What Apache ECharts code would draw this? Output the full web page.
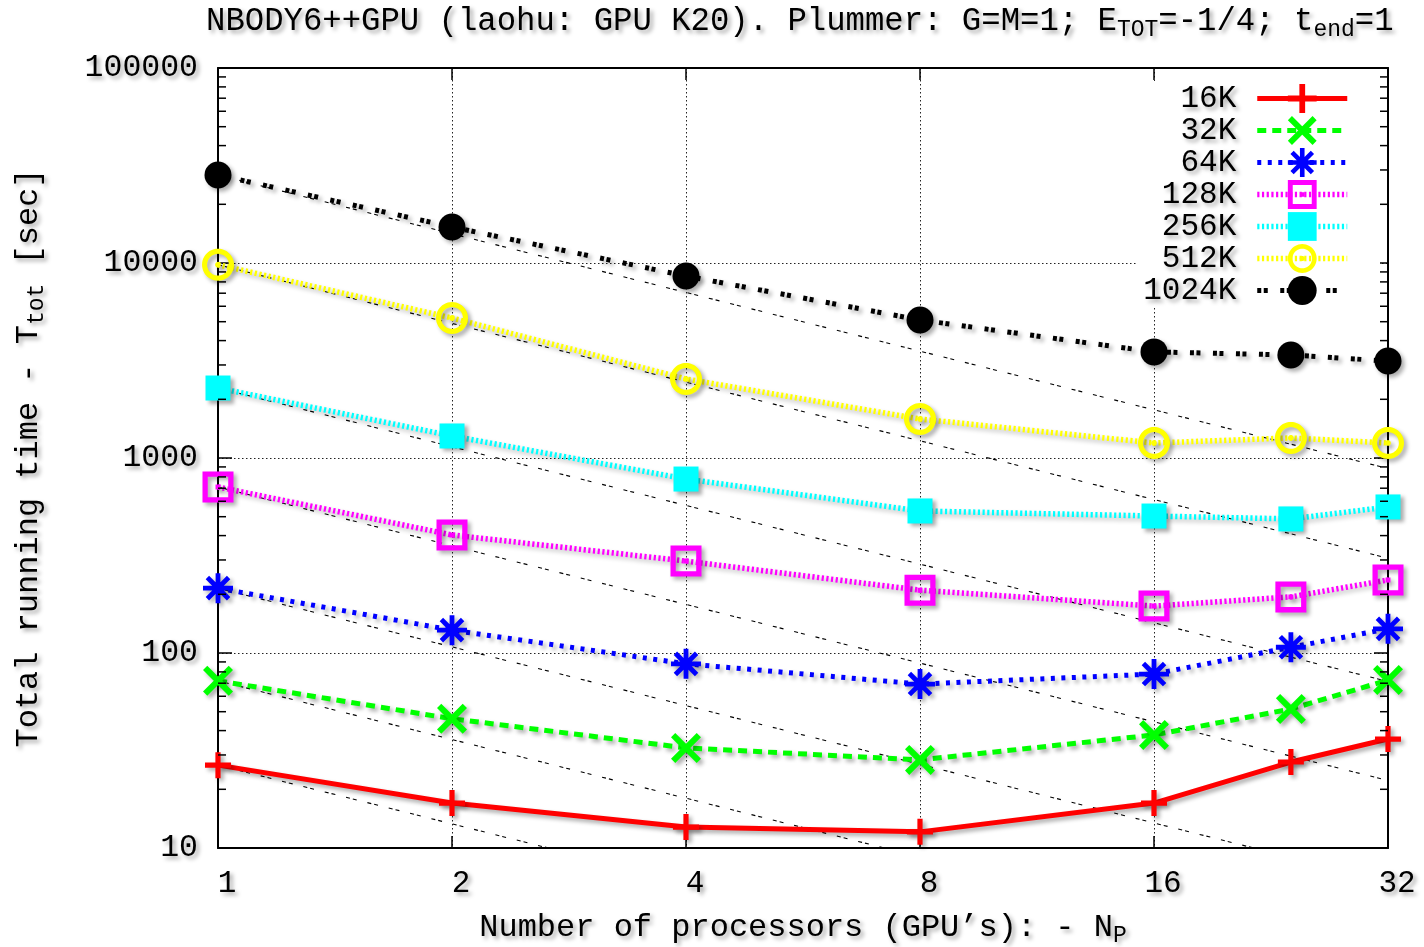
<!DOCTYPE html>
<html><head><meta charset="utf-8">
<script src="https://cdn.jsdelivr.net/npm/echarts@6/dist/echarts.min.js"></script>
<style>html,body{margin:0;padding:0;background:#fff}#c{width:1424px;height:947px}</style>
</head><body><div id="c"></div>
<script>
// ---------------- data ----------------
const processors = [1, 2, 4, 8, 16, 24, 32];
const seriesNames = ['16K', '32K', '64K', '128K', '256K', '512K', '1024K'];
const t16K   = [26.6, 17.0, 12.8, 12.1, 17.0, 27.6, 36.2];
const t32K   = [72, 46, 32.6, 28.3, 38, 51.6, 72.7];
const t64K   = [215, 131, 88, 69.3, 78, 107, 133];
const t128K  = [710, 403, 296, 210, 174, 194, 237];
const t256K  = [2285, 1297, 780, 535, 504, 487, 561];
const t512K  = [9800, 5224, 2543, 1585, 1194, 1267, 1194];
const t1024K = [28250, 15300, 8570, 5100, 3500, 3375, 3142];
const xTickLabels = ['1', '2', '4', '8', '16', '32'];
const yTickLabels = ['10', '100', '1000', '10000', '100000'];
const allTimes = [t16K, t32K, t64K, t128K, t256K, t512K, t1024K];

// ---------------- styling ----------------
const MONO = "'Liberation Mono', 'DejaVu Sans Mono', monospace";
const TSH = {textShadowColor: 'rgba(0,0,0,0.35)', textShadowBlur: 4, textShadowOffsetX: 3, textShadowOffsetY: 3};
const SH = {shadowColor: 'rgba(0,0,0,0.33)', shadowBlur: 4, shadowOffsetX: 3, shadowOffsetY: 3};

function arm(cx, cy, len, w, angDeg) {
  const a = angDeg * Math.PI / 180, c = Math.cos(a), s = Math.sin(a);
  const pts = [[-len, -w], [len, -w], [len, w], [-len, w]].map(([u, v]) => [cx + u * c - v * s, cy + u * s + v * c]);
  return 'M' + pts.map(p => p[0].toFixed(2) + ',' + p[1].toFixed(2)).join('L') + 'Z';
}
function ring(cx, cy, r, n, rev) {
  const pts = [];
  for (let i = 0; i < n; i++) {
    const a = (rev ? -1 : 1) * i * 2 * Math.PI / n;
    pts.push([cx + r * Math.cos(a), cy + r * Math.sin(a)]);
  }
  return 'M' + pts.map(p => p[0].toFixed(2) + ',' + p[1].toFixed(2)).join('L') + 'Z';
}
const SYM_PLUS = 'path://' + arm(50, 50, 50, 10, 0) + arm(50, 50, 50, 10, 90);
const SYM_CROSS = 'path://' + arm(50, 50, 60, 10, 45) + arm(50, 50, 60, 10, -45);
const SYM_STAR = 'path://' + arm(50, 50, 50, 8, 0) + arm(50, 50, 50, 8, 45) + arm(50, 50, 50, 8, 90) + arm(50, 50, 50, 8, 135);
const SYM_HSQ = 'path://M0,0H100V100H0Z M17,17V83H83V17Z M42,42H58V58H42Z';
const SYM_HCIRC = 'path://' + ring(50, 50, 50, 48, false) + ring(50, 50, 34, 48, true) + ring(50, 50, 9, 24, false);

const looks = [
  {color: '#ff0000', width: 5, type: 'solid', symbol: SYM_PLUS, size: 26},
  {color: '#00ff00', width: 5, type: [9, 6], symbol: SYM_CROSS, size: 30},
  {color: '#0000ff', width: 5, type: [4, 6.5], symbol: SYM_STAR, size: 30},
  {color: '#ff00ff', width: 5.5, type: [2.2, 2.5], symbol: SYM_HSQ, size: 31},
  {color: '#00ffff', width: 5.5, type: [2.2, 2.5], symbol: 'rect', size: 25},
  {color: '#ffff00', width: 5.5, type: [2.2, 2.5], symbol: SYM_HCIRC, size: 32},
  {color: '#000000', width: 5, type: [4, 2.5, 4, 12.5], symbol: 'circle', size: 27}
];

const series = [];
// ideal-scaling reference lines T(1)/N_P
allTimes.forEach((arr, i) => {
  series.push({
    name: 'ideal ' + seriesNames[i], type: 'line', silent: true, z: 1,
    data: [[processors[0], arr[0]], [32, arr[0] / 32]],
    symbol: 'none', lineStyle: {color: '#000', width: 1.1, type: [4, 3, 4, 11]},
    emphasis: {disabled: true}
  });
});
allTimes.forEach((arr, i) => {
  const lk = looks[i];
  series.push({
    name: seriesNames[i], type: 'line', z: 3 + i,
    data: processors.map((n, j) => [n, arr[j]]),
    symbol: lk.symbol, symbolSize: lk.size, symbolKeepAspect: true, showAllSymbol: true,
    lineStyle: Object.assign({color: lk.color, width: lk.width, type: lk.type, cap: 'butt'}, SH),
    itemStyle: Object.assign({color: lk.color, borderWidth: 0}, SH),
    emphasis: {disabled: true}
  });
});
// minor ticks on the log y axis (left and right borders)
const minorVals = [];
[10, 100, 1000, 10000].forEach(d => { for (let k = 2; k <= 9; k++) minorVals.push(d * k); });
series.push({
  type: 'custom', silent: true, z: 10, clip: false,
  data: minorVals.map(v => [1, v]),
  renderItem: function (params, api) {
    const cs = params.coordSys;
    const y = api.coord([1, api.value(1)])[1];
    const st = {stroke: '#000', lineWidth: 1.5};
    return {type: 'group', children: [
      {type: 'line', shape: {x1: cs.x, y1: y, x2: cs.x + 8, y2: y}, style: st},
      {type: 'line', shape: {x1: cs.x + cs.width - 8, y1: y, x2: cs.x + cs.width, y2: y}, style: st}
    ]};
  }
});

const subStyle = {fontFamily: MONO, fontSize: 23, color: '#000', padding: [16, 0, 0, 0]};
const subStyleAx = Object.assign({}, subStyle, TSH);

const axLine = {show: true, lineStyle: {color: '#000', width: 2}};
const grid = {left: 218, right: 36, top: 68, bottom: 99, outerBoundsMode: 'none', containLabel: false};
const gridLineStyle = {color: '#222', width: 1, type: [1.5, 2.5]};

const option = {
  animation: false,
  backgroundColor: '#fff',
  title: {
    text: 'NBODY6++GPU (laohu: GPU K20). Plummer: G=M=1; E{sub|TOT}=-1/4; t{sub|end}=1',
    left: 201, top: -3,
    textStyle: Object.assign({fontFamily: MONO, fontSize: 32.3, fontWeight: 'normal', color: '#000',
      rich: {sub: subStyleAx}}, TSH)
  },
  grid: grid,
  legend: {
    data: seriesNames, orient: 'vertical', align: 'right',
    right: 44, top: 81, itemWidth: 90, itemHeight: 36, itemGap: 1,
    padding: [2, 30, 2, 6], backgroundColor: '#fff',
    lineStyle: {width: 'inherit'},
    textStyle: Object.assign({fontFamily: MONO, fontSize: 31, color: '#000', padding: [0, 16, 0, 0]}, TSH)
  },
  xAxis: [{
    type: 'log', logBase: 2, min: 1, max: 32, position: 'bottom',
    axisLine: axLine,
    axisTick: {show: true, inside: true, length: 12, lineStyle: {color: '#000', width: 1.5}},
    axisLabel: Object.assign({fontFamily: MONO, fontSize: 31, color: '#000', margin: 20, padding: [0, 0, 0, 18],
      formatter: v => xTickLabels[Math.round(Math.log2(v))]}, TSH),
    splitLine: {show: true, lineStyle: gridLineStyle},
    name: 'Number of processors (GPU’s): - N{sub|P}', nameLocation: 'middle', nameGap: 60,
    nameTextStyle: Object.assign({fontFamily: MONO, fontSize: 32, color: '#000', rich: {sub: subStyleAx}}, TSH)
  }, {
    type: 'log', logBase: 2, min: 1, max: 32, position: 'top',
    axisLine: axLine,
    axisTick: {show: true, inside: true, length: 12, lineStyle: {color: '#000', width: 1.5}},
    axisLabel: {show: false}, splitLine: {show: false}
  }],
  yAxis: [{
    type: 'log', logBase: 10, min: 10, max: 100000, position: 'left',
    axisLine: axLine,
    axisTick: {show: true, inside: true, length: 14, lineStyle: {color: '#000', width: 1.5}},
    axisLabel: Object.assign({fontFamily: MONO, fontSize: 31.5, color: '#000', margin: 20, padding: [8, 0, 0, 0],
      formatter: v => yTickLabels[Math.round(Math.log10(v)) - 1]}, TSH),
    splitLine: {show: true, lineStyle: gridLineStyle},
    name: 'Total running time - T{sub|tot} [sec]', nameLocation: 'middle', nameRotate: 90, nameGap: 170,
    nameTextStyle: Object.assign({fontFamily: MONO, fontSize: 32, color: '#000', rich: {sub: subStyleAx}}, TSH)
  }, {
    type: 'log', logBase: 10, min: 10, max: 100000, position: 'right',
    axisLine: axLine,
    axisTick: {show: true, inside: true, length: 14, lineStyle: {color: '#000', width: 1.5}},
    axisLabel: {show: false}, splitLine: {show: false}
  }],
  series: series
};
const chart = echarts.init(document.getElementById('c'), null, {renderer: 'canvas'});
chart.setOption(option);
</script>
</body></html>
